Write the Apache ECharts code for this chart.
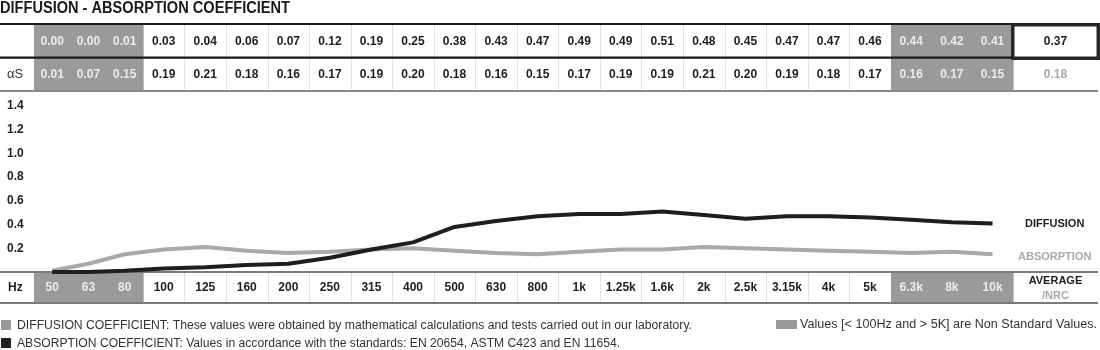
<!DOCTYPE html>
<html><head><meta charset="utf-8">
<script src="https://cdn.jsdelivr.net/npm/echarts@6/dist/echarts.min.js"></script>
<style>html,body{margin:0;padding:0;background:#fff}#c{width:1100px;height:350px}</style>
</head><body><div id="c"></div>
<script>
// ---------- DATA ----------
const frequencies = ['50','63','80','100','125','160','200','250','315','400','500','630','800','1k','1.25k','1.6k','2k','2.5k','3.15k','4k','5k','6.3k','8k','10k'];
const diffusion  = [0.00,0.00,0.01,0.03,0.04,0.06,0.07,0.12,0.19,0.25,0.38,0.43,0.47,0.49,0.49,0.51,0.48,0.45,0.47,0.47,0.46,0.44,0.42,0.41];
const absorption = [0.01,0.07,0.15,0.19,0.21,0.18,0.16,0.17,0.19,0.20,0.18,0.16,0.15,0.17,0.19,0.19,0.21,0.20,0.19,0.18,0.17,0.16,0.17,0.15];
const nonStandard = [true,true,true,false,false,false,false,false,false,false,false,false,false,false,false,false,false,false,false,false,false,true,true,true];
const diffusionAverage = 0.37;
const absorptionNRC = 0.18;
const yTicks = [0,0.2,0.4,0.6,0.8,1.0,1.2,1.4];
const seriesNames = ['DIFFUSION','ABSORPTION'];
const rowLabels = ['', 'αS', 'Hz'];
const averageLabels = ['AVERAGE','/NRC'];
const titleText = 'DIFFUSION - ABSORPTION COEFFICIENT';
const legendTexts = [
  'DIFFUSION COEFFICIENT: These values were obtained by mathematical calculations and tests carried out in our laboratory.',
  'ABSORPTION COEFFICIENT: Values in accordance with the standards: EN 20654, ASTM C423 and EN 11654.',
  'Values [< 100Hz and > 5K] are Non Standard Values.'
];

// ---------- LAYOUT ----------
const FONT = '"Liberation Sans", Arial, sans-serif';
const LABEL_W = 34, NARROW_W = 36.3, WIDE_W = 41.55, RIGHT_W = 40.7;
const X_MAX = 1098;
const edges = [LABEL_W];
for (let i = 0; i < frequencies.length; i++) {
  const w = i < 3 ? NARROW_W : (i < 21 ? WIDE_W : RIGHT_W);
  edges.push(edges[i] + w);
}
const AVG_X0 = edges[edges.length - 1];
const centers = frequencies.map((f, i) => (edges[i] + edges[i + 1]) / 2);

const GRAY = '#9a9a9a', DARK = '#1e1e1e', LIGHT_TXT = '#ececec', SOFT = '#a9a9a9';

function valueCell(x0, x1, row, text, gray, sep, color) {
  return { x0, x1, row, fill: gray ? GRAY : null, sep,
    texts: [{ text, color: color || (gray ? LIGHT_TXT : DARK), bold: true, size: 12 }] };
}
// table rows (grid 0): row 0 = diffusion, row 1 = absorption
const tableCells = [];
tableCells.push({ x0: 0, x1: LABEL_W, row: 0, texts: [] });
tableCells.push({ x0: 0, x1: LABEL_W, row: 1, texts: [{ text: rowLabels[1], color: '#333', bold: false, size: 13, align: 'left', pad: 7 }] });
frequencies.forEach((f, i) => {
  const sep = !nonStandard[i] && i > 0 && !nonStandard[i - 1];
  tableCells.push(valueCell(edges[i], edges[i + 1], 0, diffusion[i].toFixed(2), nonStandard[i], sep));
  tableCells.push(valueCell(edges[i], edges[i + 1], 1, absorption[i].toFixed(2), nonStandard[i], sep));
});
tableCells.push(valueCell(AVG_X0, X_MAX, 0, diffusionAverage.toFixed(2), false, false, DARK));
tableCells.push(valueCell(AVG_X0, X_MAX, 1, absorptionNRC.toFixed(2), false, false, SOFT));

// frequency row (grid 2)
const freqCells = [];
freqCells.push({ x0: 0, x1: LABEL_W, row: 0, texts: [{ text: rowLabels[2], color: DARK, bold: true, size: 12, align: 'left', pad: 8 }] });
frequencies.forEach((f, i) => {
  const sep = !nonStandard[i] && i > 0 && !nonStandard[i - 1];
  freqCells.push(valueCell(edges[i], edges[i + 1], 0, f, nonStandard[i], sep));
});
freqCells.push({ x0: AVG_X0, x1: X_MAX, row: 0, texts: [
  { text: averageLabels[0], color: DARK, bold: true, size: 11, dy: -7 },
  { text: averageLabels[1], color: SOFT, bold: true, size: 11, dy: 7.5 }
]});

function renderCells(cells, textDy) {
  return function (params, api) {
    const c = cells[params.dataIndex];
    const p0 = api.coord([api.value(0), api.value(2)]);
    const p1 = api.coord([api.value(1), api.value(2) + 1]);
    const x = p0[0], w = p1[0] - p0[0];
    const y = Math.min(p0[1], p1[1]), h = Math.abs(p1[1] - p0[1]);
    const children = [];
    if (c.fill) {
      const rx0 = Math.round(x), rx1 = Math.round(x + w);
      children.push({ type: 'rect', shape: { x: rx0, y: Math.floor(y), width: rx1 - rx0 + 0.6, height: Math.ceil(h) + 1 }, style: { fill: c.fill } });
    }
    if (c.sep) children.push({ type: 'line', shape: { x1: Math.round(x) + 0.5, y1: y, x2: Math.round(x) + 0.5, y2: y + h }, style: { stroke: '#e3e3e3', lineWidth: 1 } });
    c.texts.forEach(t => {
      children.push({ type: 'text',
        x: t.align === 'left' ? x + t.pad : x + w / 2,
        y: y + h / 2 + (t.dy || 0) + textDy[api.value(2)],
        style: { text: t.text, fill: t.color, fontFamily: FONT, fontWeight: t.bold ? 'bold' : 'normal',
          fontSize: t.size, align: t.align || 'center', verticalAlign: 'middle' } });
    });
    return { type: 'group', children };
  };
}

// text fitting helper (scale text horizontally to the reference width)
const mctx = document.createElement('canvas').getContext('2d');
function fitScale(text, font, target) {
  mctx.font = font;
  return target / mctx.measureText(text).width;
}

const chart = echarts.init(document.getElementById('c'), null, { renderer: 'canvas' });
const titleFont = 'bold 16px "Liberation Sans"';
const legFont = '12px "Liberation Sans"';

const graphics = [
  { type: 'text', x: 0, y: 9, scaleX: fitScale(titleText, titleFont, 290), z: 50,
    style: { text: titleText, fontFamily: FONT, fontWeight: 'bold', fontSize: 16, fill: '#1a1a1a', verticalAlign: 'middle' } },
  // table rules
  { type: 'rect', z: 50, shape: { x: 0, y: 23, width: 1011, height: 2 }, style: { fill: '#1a1a1a' } },
  { type: 'rect', z: 50, shape: { x: 0, y: 56.5, width: 1011, height: 2.2 }, style: { fill: '#1a1a1a' } },
  { type: 'rect', z: 50, shape: { x: 1012.75, y: 24.75, width: 85.5, height: 33.5 }, style: { fill: null, stroke: '#262626', lineWidth: 3.5 } },
  { type: 'rect', z: 50, shape: { x: 0, y: 90, width: 1098, height: 2 }, style: { fill: '#8a8a8a' } },
  { type: 'rect', z: 5, shape: { x: 0, y: 271, width: 1098, height: 2 }, style: { fill: '#7a7a7a' } },
  { type: 'rect', z: 50, shape: { x: 0, y: 302, width: 1098, height: 2 }, style: { fill: '#7a7a7a' } },
  // legends
  { type: 'rect', z: 50, shape: { x: 1, y: 320, width: 10, height: 10 }, style: { fill: GRAY } },
  { type: 'text', z: 50, x: 17, y: 325.5, scaleX: fitScale(legendTexts[0], legFont, 675),
    style: { text: legendTexts[0], fontFamily: FONT, fontSize: 12, fill: '#333', verticalAlign: 'middle' } },
  { type: 'rect', z: 50, shape: { x: 1, y: 338, width: 10, height: 10 }, style: { fill: '#222' } },
  { type: 'text', z: 50, x: 17, y: 343.5, scaleX: fitScale(legendTexts[1], legFont, 603),
    style: { text: legendTexts[1], fontFamily: FONT, fontSize: 12, fill: '#333', verticalAlign: 'middle' } },
  { type: 'rect', z: 50, shape: { x: 776, y: 320, width: 21, height: 9 }, style: { fill: GRAY } },
  { type: 'text', z: 50, x: 800, y: 325, scaleX: fitScale(legendTexts[2], legFont, 297),
    style: { text: legendTexts[2], fontFamily: FONT, fontSize: 12, fill: '#333', verticalAlign: 'middle' } }
];

chart.setOption({
  animation: false,
  backgroundColor: '#fff',
  grid: [
    { left: 0, width: X_MAX, top: 24, height: 67 },
    { left: 0, width: X_MAX, top: 106, height: 166 },
    { left: 0, width: X_MAX, top: 272, height: 31 }
  ],
  xAxis: [0, 1, 2].map(g => ({ type: 'value', gridIndex: g, min: 0, max: X_MAX, show: false })),
  yAxis: [
    { type: 'value', gridIndex: 0, min: 0, max: 2, inverse: true, show: false },
    { type: 'value', gridIndex: 1, min: yTicks[0], max: yTicks[yTicks.length - 1], interval: yTicks[1] - yTicks[0],
      axisLine: { show: false }, axisTick: { show: false }, splitLine: { show: false },
      axisLabel: { inside: true, margin: 7, showMinLabel: false, padding: [3, 0, 0, 0], fontFamily: FONT, fontWeight: 'bold', fontSize: 12, color: '#222',
        formatter: v => v.toFixed(1) } },
    { type: 'value', gridIndex: 2, min: 0, max: 1, inverse: true, show: false }
  ],
  series: [
    { type: 'custom', xAxisIndex: 0, yAxisIndex: 0, clip: false, z: 2,
      data: tableCells.map(c => [c.x0, c.x1, c.row]), renderItem: renderCells(tableCells, [1.2, 0.3]) },
    { type: 'custom', xAxisIndex: 2, yAxisIndex: 2, clip: false, z: 2,
      data: freqCells.map(c => [c.x0, c.x1, c.row]), renderItem: renderCells(freqCells, [0.5]) },
    { type: 'line', name: seriesNames[1], xAxisIndex: 1, yAxisIndex: 1, z: 19, symbol: 'none',
      data: centers.map((x, i) => [x, absorption[i]]),
      lineStyle: { color: SOFT, width: 4, cap: 'butt' },
      endLabel: { show: true, formatter: seriesNames[1], distance: 25.5, offset: [0, 3], fontFamily: FONT, fontWeight: 'bold', fontSize: 11, color: SOFT } },
    { type: 'line', name: seriesNames[0], xAxisIndex: 1, yAxisIndex: 1, z: 20, symbol: 'none',
      data: centers.map((x, i) => [x, diffusion[i]]),
      lineStyle: { color: '#1e1e1e', width: 4, cap: 'butt' },
      endLabel: { show: true, formatter: seriesNames[0], distance: 32.5, offset: [0, 1], fontFamily: FONT, fontWeight: 'bold', fontSize: 11, color: '#1e1e1e' } }
  ],
  graphic: graphics
});
</script></body></html>
